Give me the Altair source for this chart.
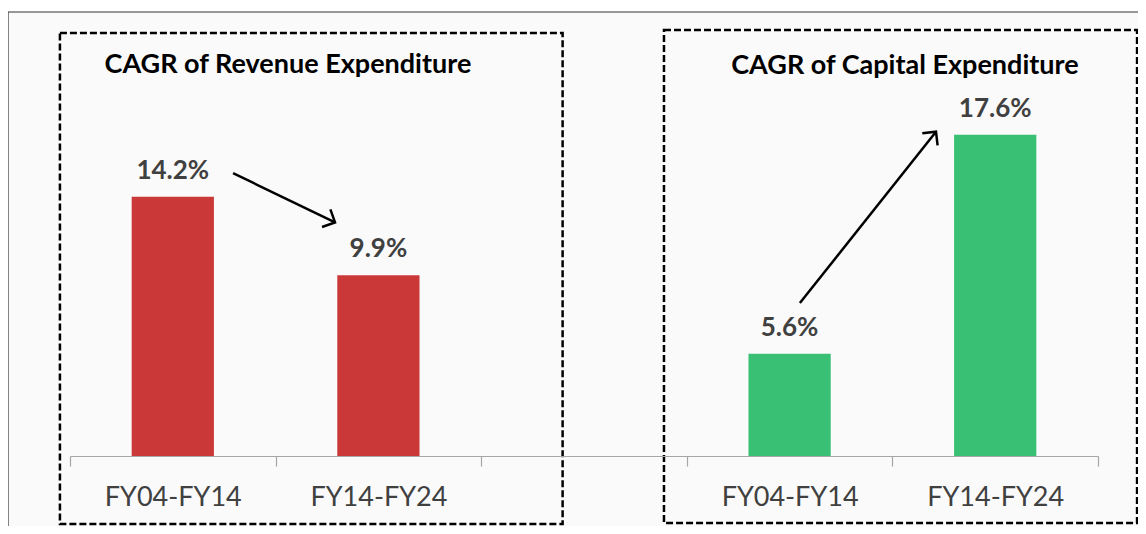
import altair as alt
import pandas as pd

# ---- data ----
slots = ["Revenue|FY04-FY14", "Revenue|FY14-FY24", "gap|", "Capital|FY04-FY14", "Capital|FY14-FY24"]
bar_slots = ["Revenue|FY04-FY14", "Revenue|FY14-FY24", "Capital|FY04-FY14", "Capital|FY14-FY24"]
values = [14.2, 9.9, 5.6, 17.6]
bar_colors = ["#CB3838", "#CB3838", "#39C074", "#39C074"]

titles = ["CAGR of Revenue Expenditure", "CAGR of Capital Expenditure"]
title_x = [1.06, 4.061]
title_y = [21.0, 20.95]

# arrows (in data units: x in slot units, y in percent)
arrow_x1 = [0.793, 3.55]
arrow_y1 = [15.5, 8.38]
arrow_x2 = [1.289, 4.212]
arrow_y2 = [12.8, 17.77]
arrow_angle = [115.4, 38.3]

# dashed group boxes
box_x1 = [-0.049, 2.889]
box_x2 = [2.396, 5.19]
box_y1 = [-3.73, -3.67]
box_y2 = [23.18, 23.34]

# outer frame
frame_x1 = [-0.3016]
frame_x2 = [5.6]
frame_y1 = [-5.0]
frame_y2 = [24.33]

Y_DOMAIN = [0, 24.33]
XQ_DOMAIN = [0, 5]
FONT = "Lato"

bars_df = pd.DataFrame({
    "slot": bar_slots,
    "value": values,
    "color": bar_colors,
    "label": [f"{v:.1f}%" for v in values],
})
titles_df = pd.DataFrame({"title": titles, "x": title_x, "y": title_y})
arrows_df = pd.DataFrame({"x1": arrow_x1, "y1": arrow_y1, "x2": arrow_x2, "y2": arrow_y2, "angle": arrow_angle})
boxes_df = pd.DataFrame({"x1": box_x1, "x2": box_x2, "y1": box_y1, "y2": box_y2})
frame_df = pd.DataFrame({"x1": frame_x1, "x2": frame_x2, "y1": frame_y1, "y2": frame_y2})

yscale = alt.Scale(domain=Y_DOMAIN, nice=False, zero=False)
xq = alt.Scale(domain=XQ_DOMAIN, nice=False, zero=False)
xband = alt.Scale(domain=slots, paddingInner=0, paddingOuter=0)

frame = alt.Chart(frame_df).mark_rect(fill="#FAFAFA", stroke="#333333", strokeWidth=1.2).encode(
    x=alt.X("x1:Q", scale=xq, axis=None),
    x2="x2:Q",
    y=alt.Y("y1:Q", scale=yscale, axis=None),
    y2="y2:Q",
)

boxes = alt.Chart(boxes_df).mark_rect(
    fillOpacity=0, stroke="black", strokeWidth=2.5, strokeDash=[7, 3]
).encode(
    x=alt.X("x1:Q", scale=xq, axis=None),
    x2="x2:Q",
    y=alt.Y("y1:Q", scale=yscale, axis=None),
    y2="y2:Q",
)

bars = alt.Chart(bars_df).mark_bar(width=alt.RelativeBandSize(0.4)).encode(
    x=alt.X(
        "slot:N",
        scale=xband,
        sort=slots,
        axis=alt.Axis(
            title=None,
            labelExpr="split(datum.label, '|')[1]",
            tickBand="extent",
            domainColor="#A6A6A6",
            domainWidth=1.2,
            tickColor="#A6A6A6",
            tickWidth=1.2,
            tickSize=10,
            labelFont=FONT,
            labelFontSize=27,
            labelColor="#404040",
            labelBaseline="alphabetic",
            labelPadding=39,
            labelAngle=0,
            grid=False,
            zindex=1,
        ),
    ),
    y=alt.Y("value:Q", scale=yscale, axis=None),
    color=alt.Color("color:N", scale=None),
)

labels = alt.Chart(bars_df).mark_text(
    font=FONT, fontSize=26, fontWeight="bold", color="#404040",
    baseline="alphabetic", align="center", dy=-18,
).encode(
    x=alt.X("slot:N", scale=xband, sort=slots, axis=None),
    y=alt.Y("value:Q", scale=yscale, axis=None),
    text="label:N",
)

title_text = alt.Chart(titles_df).mark_text(
    font=FONT, fontSize=27, fontWeight="bold", color="black",
    baseline="alphabetic", align="center",
).encode(
    x=alt.X("x:Q", scale=xq, axis=None),
    y=alt.Y("y:Q", scale=yscale, axis=None),
    text="title:N",
)

arrow_lines = alt.Chart(arrows_df).mark_rule(color="black", strokeWidth=2.5).encode(
    x=alt.X("x1:Q", scale=xq, axis=None),
    x2="x2:Q",
    y=alt.Y("y1:Q", scale=yscale, axis=None),
    y2="y2:Q",
)

arrow_heads = alt.Chart(arrows_df).mark_point(
    shape="M-1,1L0,0L1,1", filled=False, stroke="black", strokeWidth=2.5,
    size=380, opacity=1, strokeJoin="miter",
).encode(
    x=alt.X("x2:Q", scale=xq, axis=None),
    y=alt.Y("y2:Q", scale=yscale, axis=None),
    angle=alt.Angle("angle:Q", scale=None),
)

chart = alt.layer(
    frame, boxes, bars, labels, title_text, arrow_lines, arrow_heads
).resolve_scale(x="independent").properties(
    width=1028,
    height=444,
    padding={"left": 62, "top": 4, "right": 40, "bottom": 70},
    autosize=alt.AutoSizeParams(type="none"),
    background="white",
).configure_view(stroke=None)

chart.save("out.html", embed_options={"renderer": "svg", "actions": False})
